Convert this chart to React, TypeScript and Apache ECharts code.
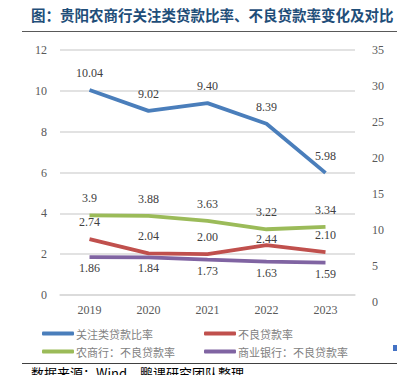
import React, { useEffect, useRef } from "react";
import * as echarts from "echarts";

const years = ["2019", "2020", "2021", "2022", "2023"];
const attentionRatio = [10.04, 9.02, 9.4, 8.39, 5.98];
const nplRatio = [2.74, 2.04, 2.0, 2.44, 2.1];
const ruralNpl = [3.9, 3.88, 3.63, 3.22, 3.34];
const commercialNpl = [1.86, 1.84, 1.73, 1.63, 1.59];

const names = ["关注类贷款比率", "不良贷款率", "农商行：不良贷款率", "商业银行：不良贷款率"];
const colors = ["#4A7EBB", "#C0504D", "#9BBB59", "#8064A2"];

const titleText = "图：贵阳农商行关注类贷款比率、不良贷款率变化及对比";
const sourceText = "数据来源：Wind，鹏课研究团队整理";

const serif = "'Liberation Serif', 'Noto Sans CJK SC', serif";
const cjk = "'Noto Sans CJK SC', sans-serif";

export default function App() {
  const ref = useRef<HTMLDivElement>(null);
  useEffect(() => {
    if (!ref.current) return;
    const chart = echarts.init(ref.current, undefined, { renderer: "svg" });
    const fix2 = (p: any) => Number(p.value).toFixed(2);
    const plain = (p: any) => String(p.value);
    const mk = (i: number, data: any[], pos: string, dist: number, fmt: any) => ({
      name: names[i],
      type: "line",
      data,
      xAxisIndex: 0,
      yAxisIndex: 0,
      symbol: "circle",
      symbolSize: 0.1,
      showSymbol: true,
      lineStyle: { color: colors[i], width: 3.8 },
      itemStyle: { color: colors[i] },
      label: {
        show: true,
        position: pos,
        distance: dist,
        formatter: fmt,
        fontFamily: serif,
        fontSize: 12,
        color: "#404040",
      },
    });
    const legendAt = (i: number, left: number, top: number) => ({
      data: [names[i]],
      left,
      top,
      icon: "roundRect",
      itemWidth: 32,
      itemHeight: 4,
      itemGap: 0,
      textStyle: { fontFamily: cjk, fontSize: 11, color: "#7F7F7F", padding: [0, 0, 0, -3] },
    });
    // the 2022 NPL label sits closer to its line in the reference (avoids the green line)
    const nplData = nplRatio.map((v, idx) =>
      idx === 3 ? { value: v, label: { distance: 0 } } : v
    );
    chart.setOption({
      animation: false,
      backgroundColor: "#FFFFFF",
      grid: [
        { left: 60, right: 42, top: 50, bottom: 80 },
        { left: 60, right: 42, top: 50, bottom: 73 },
      ],
      xAxis: [
        {
          type: "category",
          gridIndex: 0,
          data: years,
          boundaryGap: true,
          axisLine: { show: true, lineStyle: { color: "#D9D9D9", width: 1.5 } },
          axisTick: { show: false },
          axisLabel: { fontFamily: serif, fontSize: 12, color: "#595959", margin: 9 },
        },
        { type: "category", gridIndex: 1, data: years, show: false },
      ],
      yAxis: [
        {
          type: "value",
          gridIndex: 0,
          min: 0,
          max: 12,
          interval: 2,
          axisLine: { show: false },
          axisTick: { show: false },
          splitLine: { lineStyle: { color: "#D9D9D9", width: 1.5 } },
          axisLabel: { fontFamily: serif, fontSize: 12, color: "#595959", margin: 13 },
        },
        {
          type: "value",
          gridIndex: 1,
          position: "right",
          min: 0,
          max: 35,
          interval: 5,
          axisLine: { show: false },
          axisTick: { show: false },
          splitLine: { show: false },
          axisLabel: { fontFamily: serif, fontSize: 12, color: "#595959", margin: 17 },
        },
      ],
      legend: [
        legendAt(0, 37, 323),
        legendAt(1, 199, 323),
        legendAt(2, 37, 341),
        legendAt(3, 199, 341),
      ],
      series: [
        mk(0, attentionRatio, "top", 11, fix2),
        mk(1, nplData, "top", 11, fix2),
        mk(2, ruralNpl, "top", 11, plain),
        mk(3, commercialNpl, "bottom", 5, fix2),
      ],
      graphic: [
        {
          type: "text",
          left: 31,
          top: 7,
          style: { text: titleText, fontFamily: cjk, fontSize: 14.5, fontWeight: "bold", fill: "#1F4E79" },
        },
        {
          type: "line",
          shape: { x1: 22, y1: 31.5, x2: 397, y2: 31.5 },
          style: { stroke: "#595959", lineWidth: 1 },
        },
        {
          type: "line",
          shape: { x1: 22, y1: 363.5, x2: 397, y2: 363.5 },
          style: { stroke: "#404040", lineWidth: 1 },
        },
        {
          type: "rect",
          shape: { x: 393, y: 345, width: 4, height: 6 },
          style: { fill: "#4472C4" },
        },
        {
          type: "text",
          left: 31,
          top: 366,
          style: { text: sourceText, fontFamily: cjk, fontSize: 13, fill: "#000000" },
        },
      ],
    });
    return () => chart.dispose();
  }, []);
  return (
    <div
      ref={ref}
      style={{ position: "fixed", left: 0, top: 0, width: 397, height: 375, background: "#fff" }}
    />
  );
}
